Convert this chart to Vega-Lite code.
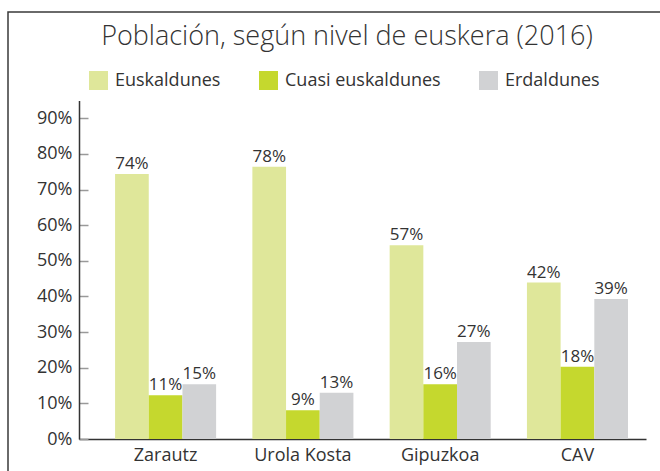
{
  "$schema": "https://vega.github.io/schema/vega-lite/v6.json",
  "width": 700,
  "height": 500,
  "autosize": {"type": "none"},
  "padding": {"left": 8, "top": 12, "right": -48, "bottom": -41},
  "background": "white",
  "title": {
    "text": "Población, según nivel de euskera (2016)",
    "anchor": "middle",
    "frame": "group",
    "offset": -60,
    "dx": -11,
    "baseline": "alphabetic",
    "font": "Open Sans",
    "fontSize": 27,
    "fontWeight": 300,
    "color": "#333333"
  },
  "config": {
    "view": {"stroke": "#3a3a3a", "strokeWidth": 1.5}
  },
  "data": {
    "values": [
      {"region": "Zarautz", "group": "Euskaldunes", "value": 74.4, "label": "74%"},
      {"region": "Zarautz", "group": "Cuasi euskaldunes", "value": 12.3, "label": "11%"},
      {"region": "Zarautz", "group": "Erdaldunes", "value": 15.4, "label": "15%"},
      {"region": "Urola Kosta", "group": "Euskaldunes", "value": 76.4, "label": "78%"},
      {"region": "Urola Kosta", "group": "Cuasi euskaldunes", "value": 8.1, "label": "9%"},
      {"region": "Urola Kosta", "group": "Erdaldunes", "value": 13.0, "label": "13%"},
      {"region": "Gipuzkoa", "group": "Euskaldunes", "value": 54.4, "label": "57%"},
      {"region": "Gipuzkoa", "group": "Cuasi euskaldunes", "value": 15.4, "label": "16%"},
      {"region": "Gipuzkoa", "group": "Erdaldunes", "value": 27.2, "label": "27%"},
      {"region": "CAV", "group": "Euskaldunes", "value": 43.9, "label": "42%"},
      {"region": "CAV", "group": "Cuasi euskaldunes", "value": 20.3, "label": "18%"},
      {"region": "CAV", "group": "Erdaldunes", "value": 39.3, "label": "39%"}
    ]
  },
  "encoding": {
    "x": {
      "field": "region",
      "type": "nominal",
      "sort": ["Zarautz", "Urola Kosta", "Gipuzkoa", "CAV"],
      "scale": {"range": [71, 638], "paddingInner": 0.264, "paddingOuter": 0.197, "align": 0.667},
      "axis": {
        "orient": "bottom",
        "offset": -73,
        "title": null,
        "labelAngle": 0,
        "ticks": false,
        "domainColor": "#333333",
        "domainWidth": 1.5,
        "labelPadding": 7,
        "labelFont": "Open Sans",
        "labelFontSize": 18,
        "labelColor": "#333333"
      }
    },
    "xOffset": {
      "field": "group",
      "type": "nominal",
      "sort": ["Euskaldunes", "Cuasi euskaldunes", "Erdaldunes"],
      "scale": {"paddingInner": 0, "paddingOuter": 0}
    },
    "y": {
      "field": "value",
      "type": "quantitative",
      "scale": {"domain": [0, 95], "range": [427, 88.5], "nice": false},
      "axis": {
        "orient": "left",
        "offset": -71,
        "values": [0, 10, 20, 30, 40, 50, 60, 70, 80, 90],
        "labelExpr": "datum.value + '%'",
        "title": null,
        "grid": false,
        "domainColor": "#333333",
        "domainWidth": 1.5,
        "tickColor": "#999999",
        "tickSize": -9,
        "tickWidth": 1.5,
        "labelPadding": 16,
        "labelFont": "Open Sans",
        "labelFontSize": 18,
        "labelColor": "#333333"
      }
    }
  },
  "layer": [
    {
      "mark": {"type": "bar"},
      "encoding": {
        "color": {
          "field": "group",
          "type": "nominal",
          "sort": ["Euskaldunes", "Cuasi euskaldunes", "Erdaldunes"],
          "scale": {"domain": ["Euskaldunes", "Cuasi euskaldunes", "Erdaldunes"], "range": ["#dfe79a", "#c5d82e", "#d1d2d4"]},
          "legend": {
            "orient": "none",
            "legendX": 81,
            "legendY": 59,
            "direction": "horizontal",
            "title": null,
            "symbolType": "square",
            "symbolSize": 361,
            "symbolStrokeWidth": 0,
            "symbolOpacity": 1,
            "labelFont": "Open Sans",
            "labelFontSize": 18,
            "labelColor": "#333333",
            "labelOffset": 7,
            "columnPadding": 38
          }
        }
      }
    },
    {
      "mark": {"type": "text", "dy": -5, "baseline": "alphabetic", "font": "Open Sans", "fontSize": 17, "color": "#333333"},
      "encoding": {"text": {"field": "label"}}
    }
  ]
}
